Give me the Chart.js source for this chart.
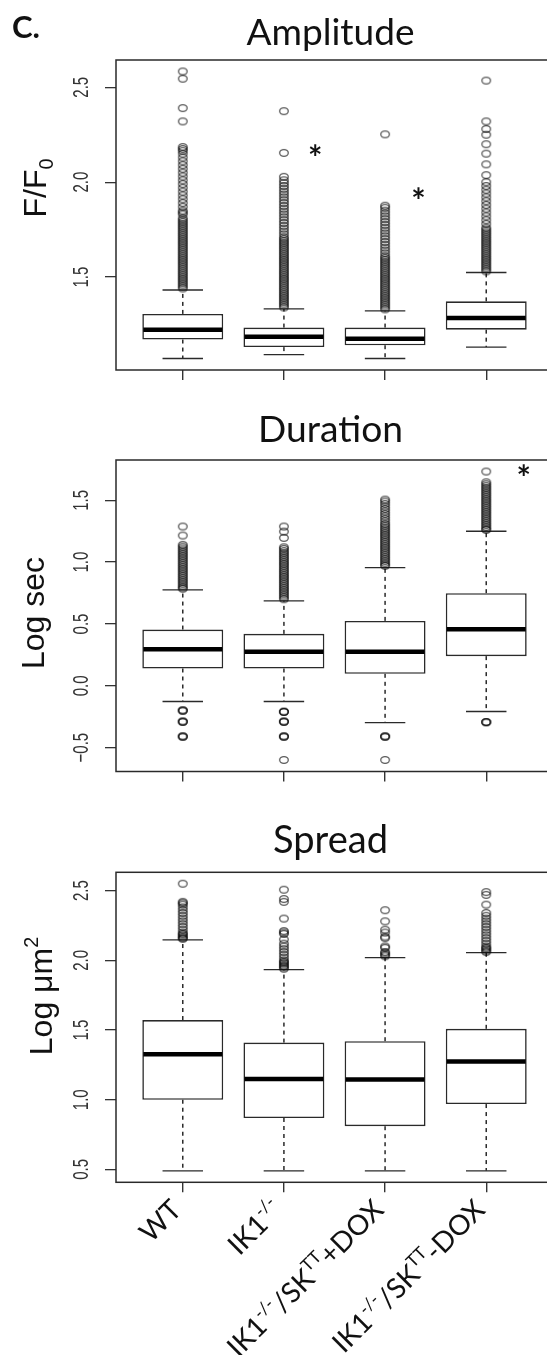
<!DOCTYPE html>
<html><head><meta charset="utf-8">
<script src="https://cdn.jsdelivr.net/npm/chart.js@4.4.1/dist/chart.umd.min.js"></script>
<style>
html,body{margin:0;padding:0;background:#fff;}
body{width:547px;height:1355px;overflow:hidden;position:relative;}
canvas{position:absolute;left:0;}
</style></head><body>
<canvas id="amp" width="580" height="405" style="top:0px;width:580px;height:405px"></canvas>
<canvas id="dur" width="580" height="395" style="top:405px;width:580px;height:395px"></canvas>
<canvas id="spr" width="580" height="555" style="top:800px;width:580px;height:555px"></canvas>
<script>
// ---------------- data ----------------
const categories = ['WT', 'IK1-/-', 'IK1-/-/SKTT+DOX', 'IK1-/-/SKTT-DOX'];
const categoryLabelParts = [
  [['WT','n']],
  [['IK1','n'],['-/-','s']],
  [['IK1','n'],['-/-','s'],['/SK','n'],['TT','s'],['+DOX','n']],
  [['IK1','n'],['-/-','s'],['/SK','n'],['TT','s'],['-DOX','n']]
];

// Amplitude (F/F0)
const ampTicks = [1.5, 2.0, 2.5];
const ampLow  = [1.071, 1.091, 1.071, 1.131];
const ampQ1   = [1.171, 1.131, 1.141, 1.223];
const ampMed  = [1.222, 1.185, 1.175, 1.285];
const ampQ3   = [1.306, 1.234, 1.234, 1.372];
const ampHigh = [1.432, 1.332, 1.322, 1.524];
const ampOutWT = [2.583, 2.545, 2.39, 2.32, 2.185, 2.175, 2.165, 2.15, 2.13, 2.11, 2.09, 2.07, 2.05, 2.03, 2.01, 1.99, 1.97, 1.95, 1.93, 1.91, 1.89, 1.87, 1.85, 1.84, 1.83, 1.81, 1.80, 1.79, 1.78, 1.77, 1.76, 1.75, 1.74, 1.73, 1.72, 1.71, 1.70, 1.69, 1.68, 1.67, 1.66, 1.65, 1.64, 1.63, 1.62, 1.61, 1.60, 1.59, 1.58, 1.57, 1.56, 1.55, 1.54, 1.53, 1.52, 1.51, 1.50, 1.49, 1.48, 1.47, 1.46, 1.45, 1.44];
const ampOutIK1 = [2.374, 2.154, 2.028, 2.01, 1.995, 1.98, 1.965, 1.95, 1.935, 1.92, 1.905, 1.89, 1.875, 1.86, 1.845, 1.83, 1.815, 1.80, 1.785, 1.77, 1.755, 1.74, 1.725, 1.71, 1.70, 1.69, 1.68, 1.67, 1.66, 1.65, 1.64, 1.63, 1.62, 1.61, 1.60, 1.59, 1.58, 1.57, 1.56, 1.55, 1.54, 1.53, 1.52, 1.51, 1.50, 1.49, 1.48, 1.47, 1.46, 1.45, 1.44, 1.43, 1.42, 1.41, 1.40, 1.39, 1.38, 1.37, 1.36, 1.35, 1.34];
const ampOutDoxPlus = [2.252, 1.876, 1.865, 1.85, 1.835, 1.82, 1.805, 1.79, 1.775, 1.76, 1.745, 1.73, 1.715, 1.70, 1.685, 1.67, 1.655, 1.64, 1.625, 1.61, 1.60, 1.59, 1.58, 1.57, 1.56, 1.55, 1.54, 1.53, 1.52, 1.51, 1.50, 1.49, 1.48, 1.47, 1.46, 1.45, 1.44, 1.43, 1.42, 1.41, 1.40, 1.39, 1.38, 1.37, 1.36, 1.35, 1.34, 1.33];
const ampOutDoxMinus = [2.535, 2.32, 2.28, 2.25, 2.20, 2.15, 2.094, 2.037, 2.0, 1.98, 1.96, 1.94, 1.92, 1.90, 1.88, 1.86, 1.84, 1.82, 1.80, 1.78, 1.76, 1.75, 1.74, 1.73, 1.72, 1.71, 1.70, 1.69, 1.68, 1.67, 1.66, 1.65, 1.64, 1.63, 1.62, 1.61, 1.60, 1.59, 1.58, 1.57, 1.56, 1.55, 1.54, 1.53];
const ampStars = [{x: 2.31, y: 2.16}, {x: 3.33, y: 1.93}];

// Duration (log sec)
const durTicks = [-0.5, 0.0, 0.5, 1.0, 1.5];
const durLow  = [-0.127, -0.127, -0.297, -0.208];
const durQ1   = [0.14, 0.14, 0.097, 0.24];
const durMed  = [0.296, 0.275, 0.275, 0.458];
const durQ3   = [0.455, 0.42, 0.525, 0.749];
const durHigh = [0.776, 0.687, 0.956, 1.25];
const durOutWT = [1.288, 1.215, 1.14, 1.125, 1.11, 1.095, 1.08, 1.065, 1.05, 1.035, 1.02, 1.005, 0.99, 0.975, 0.96, 0.945, 0.93, 0.915, 0.90, 0.885, 0.87, 0.855, 0.84, 0.825, 0.81, 0.795, 0.785, -0.2, -0.2, -0.2, -0.29, -0.29, -0.29, -0.41, -0.41, -0.41];
const durOutIK1 = [1.288, 1.247, 1.196, 1.12, 1.107, 1.09, 1.075, 1.06, 1.045, 1.03, 1.015, 1.0, 0.985, 0.97, 0.955, 0.94, 0.925, 0.91, 0.895, 0.88, 0.865, 0.85, 0.835, 0.82, 0.805, 0.79, 0.775, 0.76, 0.745, 0.73, 0.715, 0.70, -0.21, -0.21, -0.21, -0.29, -0.29, -0.29, -0.41, -0.41, -0.41, -0.6];
const durOutDoxPlus = [1.506, 1.49, 1.471, 1.45, 1.43, 1.41, 1.39, 1.37, 1.35, 1.33, 1.31, 1.296, 1.28, 1.265, 1.25, 1.235, 1.22, 1.205, 1.19, 1.175, 1.16, 1.145, 1.13, 1.115, 1.10, 1.085, 1.07, 1.055, 1.04, 1.025, 1.01, 0.995, 0.98, 0.97, -0.41, -0.41, -0.41, -0.6];
const durOutDoxMinus = [1.733, 1.646, 1.63, 1.615, 1.60, 1.585, 1.57, 1.555, 1.54, 1.525, 1.51, 1.495, 1.48, 1.465, 1.45, 1.435, 1.42, 1.405, 1.39, 1.375, 1.36, 1.345, 1.33, 1.315, 1.30, 1.285, 1.27, 1.26, -0.294, -0.294, -0.294];
const durStars = [{x: 4.37, y: 1.73}];

// Spread (log um^2)
const sprTicks = [0.5, 1.0, 1.5, 2.0, 2.5];
const sprLow  = [0.49, 0.49, 0.49, 0.49];
const sprQ1   = [1.0, 0.869, 0.81, 0.969];
const sprMed  = [1.327, 1.148, 1.145, 1.274];
const sprQ3   = [1.572, 1.41, 1.42, 1.509];
const sprHigh = [2.147, 1.933, 2.02, 2.056];
const sprOutWT = [2.55, 2.42, 2.41, 2.40, 2.38, 2.36, 2.34, 2.32, 2.30, 2.28, 2.26, 2.24, 2.22, 2.20, 2.19, 2.18, 2.17, 2.16, 2.155];
const sprOutIK1 = [2.507, 2.44, 2.42, 2.30, 2.21, 2.20, 2.19, 2.15, 2.12, 2.10, 2.08, 2.06, 2.04, 2.02, 2.00, 1.99, 1.98, 1.97, 1.96, 1.95, 1.94];
const sprOutDoxPlus = [2.36, 2.28, 2.22, 2.20, 2.17, 2.16, 2.10, 2.09, 2.06, 2.05, 2.04, 2.03];
const sprOutDoxMinus = [2.49, 2.47, 2.40, 2.34, 2.32, 2.30, 2.28, 2.26, 2.24, 2.22, 2.20, 2.18, 2.16, 2.14, 2.12, 2.10, 2.09, 2.08, 2.07, 2.06];

// ---------------- drawing helpers ----------------
const TXT = 'Lato, "Open Sans", sans-serif';
const AX = '"Liberation Sans", Arial, sans-serif';
const STRETCH = 1.5; // original R graphics are horizontally stretched

const circleImg = (function () {
  const c = document.createElement('canvas');
  c.width = 12; c.height = 10;
  const g = c.getContext('2d');
  g.strokeStyle = 'rgba(10,10,10,0.68)';
  g.lineWidth = 1.3;
  g.beginPath();
  g.ellipse(6, 5, 4.3, 3.4, 0, 0, Math.PI * 2);
  g.stroke();
  return c;
})();

function fmt(v) { return v < 0 ? '\u2212' + Math.abs(v).toFixed(1) : v.toFixed(1); }

function line(ctx, x1, y1, x2, y2) { ctx.beginPath(); ctx.moveTo(x1, y1); ctx.lineTo(x2, y2); ctx.stroke(); }

function fitSize(ctx, text, family, weight, target) {
  ctx.font = weight + ' 100px ' + family;
  return 100 * target / ctx.measureText(text).width;
}

function drawRich(ctx, parts, x, y, angle, align, size, family, weight, baseShift) {
  ctx.save();
  ctx.translate(x, y);
  ctx.rotate(angle);
  const items = parts.map(([t, k]) => {
    const s = k === 'n' ? size : size * 0.62;
    ctx.font = weight + ' ' + s + 'px ' + family;
    return {t, k, s, w: ctx.measureText(t).width};
  });
  const total = items.reduce((a, b) => a + b.w, 0);
  let cx = align === 'right' ? -total : (align === 'center' ? -total / 2 : 0);
  ctx.textAlign = 'left';
  ctx.textBaseline = 'alphabetic';
  ctx.fillStyle = '#111';
  items.forEach(it => {
    ctx.font = weight + ' ' + it.s + 'px ' + family;
    const dy = it.k === 's' ? -size * 0.42 : (it.k === 'b' ? size * 0.22 : 0);
    ctx.fillText(it.t, cx, dy + baseShift);
    cx += it.w;
  });
  ctx.restore();
}

function boxPlugin(p) {
  return {
    id: 'box_' + p.name,
    beforeDatasetsDraw(chart) {
      const {ctx, scales: {x, y}} = chart;
      const step = x.getPixelForValue(2) - x.getPixelForValue(1);
      const capHalf = step * 0.8 * 0.25;
      ctx.save();
      ctx.strokeStyle = '#2a2a2a';
      p.q1.forEach((q, i) => {
        const cx = x.getPixelForValue(i + 1);
        ctx.lineWidth = 1.5;
        ctx.setLineDash([4, 4]);
        line(ctx, cx, y.getPixelForValue(p.q3[i]), cx, y.getPixelForValue(p.high[i]));
        line(ctx, cx, y.getPixelForValue(q), cx, y.getPixelForValue(p.low[i]));
        ctx.setLineDash([]);
        ctx.lineWidth = 1.3;
        line(ctx, cx - capHalf, y.getPixelForValue(p.high[i]), cx + capHalf, y.getPixelForValue(p.high[i]));
        line(ctx, cx - capHalf, y.getPixelForValue(p.low[i]), cx + capHalf, y.getPixelForValue(p.low[i]));
      });
      ctx.restore();
    },
    afterDatasetsDraw(chart) {
      const {ctx, scales: {x, y}} = chart;
      const step = x.getPixelForValue(2) - x.getPixelForValue(1);
      const half = step * 0.8 / 2;
      ctx.save();
      ctx.strokeStyle = '#000';
      ctx.lineWidth = 4.5;
      p.med.forEach((m, i) => {
        const cx = x.getPixelForValue(i + 1);
        const py = y.getPixelForValue(m);
        line(ctx, cx - half + 1, py, cx + half - 1, py);
      });
      ctx.fillStyle = '#111';
      ctx.font = '700 34px ' + TXT;
      ctx.textAlign = 'center';
      ctx.textBaseline = 'alphabetic';
      (p.stars || []).forEach(s => {
        ctx.fillText('*', x.getPixelForValue(s.x), y.getPixelForValue(s.y) + 18);
      });
      ctx.restore();
    },
    afterDraw(chart) {
      const {ctx, chartArea: a, scales: {x, y}} = chart;
      ctx.save();
      // plot frame
      ctx.strokeStyle = '#2a2a2a';
      ctx.lineWidth = 1.5;
      ctx.strokeRect(a.left, a.top, a.right - a.left, a.bottom - a.top);
      // y tick labels (rotated, stretched like the original)
      ctx.fillStyle = '#333';
      ctx.font = '15px ' + AX;
      ctx.textAlign = 'center';
      ctx.textBaseline = 'middle';
      p.yTicks.forEach(v => {
        ctx.save();
        ctx.translate(p.tickLabelX, y.getPixelForValue(v));
        ctx.scale(STRETCH, 1);
        ctx.rotate(-Math.PI / 2);
        ctx.fillText(fmt(v), 0, 1);
        ctx.restore();
      });
      // main title
      const ts = fitSize(ctx, p.title, TXT, '400', p.titleWidth);
      ctx.font = '400 ' + ts + 'px ' + TXT;
      ctx.fillStyle = '#111';
      ctx.textAlign = 'center';
      ctx.textBaseline = 'alphabetic';
      ctx.fillText(p.title, (a.left + a.right) / 2 - 4, p.titleY);
      // panel letter
      if (p.letter) {
        const ls = fitSize(ctx, p.letter, TXT, '700', 28);
        ctx.font = '700 ' + ls + 'px ' + TXT;
        ctx.textAlign = 'left';
        ctx.fillText(p.letter, 12, 38);
      }
      ctx.restore();
      // y axis title
      drawRich(ctx, p.yTitle, p.yTitleX, p.yTitleY, -Math.PI / 2, 'center', 32, AX, '400', 11.5);
      // category labels
      if (p.showXLabels) {
        categoryLabelParts.forEach((parts, i) => {
          const cx = x.getPixelForValue(i + 1);
          drawRich(ctx, parts, cx - 6, a.bottom + 23, -Math.PI / 4, 'right', 28, TXT, '400', 9);
        });
      }
    }
  };
}

function buildPanel(id, p) {
  const boxes = p.q1.map((q, i) => ({x: i + 1, y: [q, p.q3[i]]}));
  const pts = [];
  p.outliers.forEach((arr, i) => arr.forEach(v => pts.push({x: i + 1, y: v})));
  return new Chart(document.getElementById(id), {
    type: 'bar',
    data: {
      datasets: [
        {type: 'scatter', data: pts, pointStyle: circleImg, pointRadius: 4, pointHoverRadius: 4, order: 0},
        {type: 'bar', data: boxes, backgroundColor: '#fff', borderColor: '#2a2a2a', borderWidth: 1.6,
         borderSkipped: false, barPercentage: 1, categoryPercentage: 0.8, order: 1}
      ]
    },
    options: {
      responsive: false, animation: false, devicePixelRatio: 1,
      events: [],
      layout: {padding: {top: p.padTop, bottom: p.padBottom, left: 0, right: 27}},
      plugins: {legend: {display: false}, tooltip: {enabled: false}, title: {display: false}},
      scales: {
        x: {
          type: 'linear', min: 0.34, max: 4.66, offset: false, bounds: 'data',
          afterBuildTicks: s => { s.ticks = categories.map((c, i) => ({value: i + 1})); },
          afterFit: s => { s.height = 20; },
          ticks: {display: false},
          grid: {display: true, offset: false, drawOnChartArea: false, drawTicks: true, tickLength: 10, color: '#333', lineWidth: 1.4},
          border: {display: false}
        },
        y: {
          type: 'linear', min: p.yMin, max: p.yMax, bounds: 'data', beginAtZero: false,
          afterBuildTicks: s => { s.ticks = p.yTicks.map(v => ({value: v})); },
          afterFit: s => { s.width = 116; },
          ticks: {display: false},
          grid: {display: true, drawOnChartArea: false, drawTicks: true, tickLength: 11, color: '#333', lineWidth: 1.3},
          border: {display: false}
        }
      }
    },
    plugins: [boxPlugin(p)]
  });
}

buildPanel('amp', {
  name: 'amp', yMin: 1.0105, yMax: 2.6435, yTicks: ampTicks,
  low: ampLow, q1: ampQ1, med: ampMed, q3: ampQ3, high: ampHigh,
  outliers: [ampOutWT, ampOutIK1, ampOutDoxPlus, ampOutDoxMinus], stars: ampStars,
  padTop: 60, padBottom: 15, tickLabelX: 80,
  title: 'Amplitude', titleWidth: 168, titleY: 45, letter: 'C.',
  yTitle: [['F/F', 'n'], ['0', 'b']], yTitleX: 34, yTitleY: 188, showXLabels: false
});
buildPanel('dur', {
  name: 'dur', yMin: -0.693, yMax: 1.826, yTicks: durTicks,
  low: durLow, q1: durQ1, med: durMed, q3: durQ3, high: durHigh,
  outliers: [durOutWT, durOutIK1, durOutDoxPlus, durOutDoxMinus], stars: durStars,
  padTop: 55, padBottom: 8.5, tickLabelX: 80,
  title: 'Duration', titleWidth: 145, titleY: 37,
  yTitle: [['Log sec', 'n']], yTitleX: 32, yTitleY: 208, showXLabels: false
});
buildPanel('spr', {
  name: 'spr', yMin: 0.4076, yMax: 2.632, yTicks: sprTicks,
  low: sprLow, q1: sprQ1, med: sprMed, q3: sprQ3, high: sprHigh,
  outliers: [sprOutWT, sprOutIK1, sprOutDoxPlus, sprOutDoxMinus], stars: [],
  padTop: 72.3, padBottom: 152.7, tickLabelX: 80,
  title: 'Spread', titleWidth: 115, titleY: 53,
  yTitle: [['Log \u03bcm', 'n'], ['2', 's']], yTitleX: 40, yTitleY: 196, showXLabels: true
});
</script>
</body></html>
